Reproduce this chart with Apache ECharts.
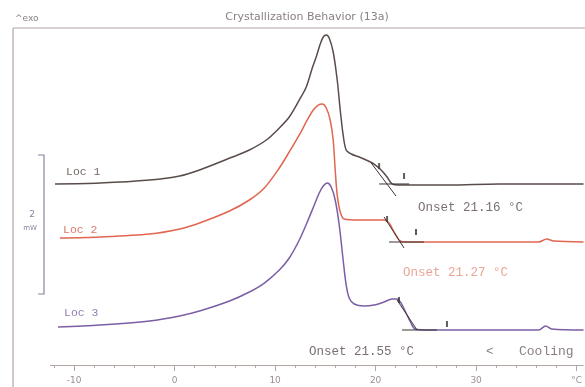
<!DOCTYPE html>
<html>
<head>
<meta charset="utf-8">
<script src="https://cdn.jsdelivr.net/npm/echarts@6/dist/echarts.min.js"></script>
<style>
  html, body { margin: 0; padding: 0; background: #fff; }
  #chart { width: 585px; height: 387px; }
</style>
</head>
<body>
<div id="chart"></div>
<script>
// temperature (°C) / heat flow (mW, offset per curve)
const loc1 = [
  [-11.9, 2.586], [-7.44, 2.6], [-2.48, 2.643], [0.5, 2.7], [2.48, 2.786], [5.76, 2.971],
  [7.44, 3.071], [9.13, 3.214], [10.42, 3.386], [11.41, 3.543], [12.41, 3.786], [13.1, 3.971],
  [13.7, 4.243], [14.09, 4.4], [14.49, 4.586], [14.79, 4.686], [15.09, 4.714], [15.38, 4.671],
  [15.78, 4.471], [16.18, 4.071], [16.48, 3.643], [16.77, 3.286], [17.07, 3.071], [17.57, 3.014],
  [18.36, 2.971], [19.06, 2.929], [19.85, 2.871], [20.55, 2.786], [21.14, 2.686], [21.64, 2.586],
  [22.33, 2.571], [27.3, 2.571], [32.26, 2.586], [40.69, 2.586]
];
const loc2 = [
  [-11.4, 1.814], [-7.44, 1.829], [-2.48, 1.871], [0.5, 1.943], [2.48, 2.029], [5.46, 2.2],
  [7.44, 2.357], [8.93, 2.529], [10.42, 2.814], [11.41, 3.043], [12.41, 3.286], [13.2, 3.5],
  [13.8, 3.643], [14.29, 3.714], [14.69, 3.729], [15.09, 3.671], [15.48, 3.5], [15.78, 3.214],
  [15.98, 2.786], [16.18, 2.429], [16.48, 2.186], [16.87, 2.086], [18.36, 2.071], [19.85, 2.071],
  [20.84, 2.071], [21.34, 2.029], [21.84, 1.9], [22.33, 1.786], [22.83, 1.757], [27.3, 1.757],
  [36.23, 1.757], [37.02, 1.8], [37.72, 1.771], [40.69, 1.757]
];
const loc3 = [
  [-11.6, 0.543], [-7.44, 0.571], [-2.48, 0.629], [0.5, 0.7], [2.48, 0.771], [5.46, 0.914],
  [7.44, 1.043], [8.93, 1.171], [10.42, 1.357], [11.41, 1.529], [12.41, 1.786], [13.2, 2.043],
  [13.9, 2.286], [14.39, 2.457], [14.79, 2.557], [15.19, 2.6], [15.58, 2.543], [15.98, 2.357],
  [16.38, 2.0], [16.77, 1.5], [17.07, 1.143], [17.37, 0.957], [17.87, 0.871], [18.86, 0.843],
  [19.85, 0.857], [20.84, 0.9], [21.64, 0.943], [22.13, 0.943], [22.53, 0.886], [23.03, 0.743],
  [23.52, 0.6], [23.92, 0.514], [25.31, 0.5], [32.26, 0.5], [36.23, 0.5], [36.92, 0.557],
  [37.52, 0.514], [40.69, 0.5]
];
// onset construction lines (tangent + baseline) for each curve
const tangents = [
  [[19.56, 2.886], [22.03, 2.414]], [[20.35, 2.586], [23.33, 2.586]],
  [[20.84, 2.114], [22.83, 1.671]], [[21.34, 1.757], [24.81, 1.757]],
  [[22.13, 0.929], [24.12, 0.5]], [[22.63, 0.5], [26.1, 0.5]]
];
const limitMarks = [
  [20.35, 2.843], [22.83, 2.7], [21.14, 2.086], [24.02, 1.9], [22.33, 0.929], [27.1, 0.586]
];
const majorTicks = [-10, 0, 10, 20, 30, 40];
const minorTicks = [-12, -8, -6, -4, -2, 2, 4, 6, 8, 12, 14, 16, 18, 22, 24, 26, 28, 32, 34, 36, 38];
const onsetLabels = ['Onset 21.16 °C', 'Onset 21.27 °C', 'Onset 21.55 °C'];

const frame = '#b3a5a2';
const mono = '"Liberation Mono", "DejaVu Sans Mono", monospace';
const sans = '"DejaVu Sans", sans-serif';

const chart = echarts.init(document.getElementById('chart'));

const tangentSeries = tangents.map((seg) => ({
  type: 'line',
  data: seg,
  symbol: 'none',
  silent: true,
  lineStyle: { color: '#3a3434', width: 1 },
  z: 3
}));

chart.setOption({
  animation: false,
  grid: { left: 13, right: 0, top: 28, bottom: 22 },
  xAxis: [
    {
      type: 'value', min: -16.08, max: 40.69,
      axisLine: { show: false },
      splitLine: { show: false },
      axisTick: { show: true, customValues: majorTicks, length: 6, lineStyle: { color: frame } },
      axisLabel: {
        customValues: majorTicks, color: '#9a9090', fontSize: 9, margin: 11,
        fontFamily: sans,
        formatter: (v) => (v === 40 ? '°C' : String(v))
      }
    },
    {
      type: 'value', min: -16.08, max: 40.69, position: 'bottom',
      axisLine: { show: false },
      splitLine: { show: false },
      axisTick: { show: true, customValues: minorTicks, length: 3, lineStyle: { color: frame } },
      axisLabel: { show: false }
    }
  ],
  yAxis: { type: 'value', min: 0, max: 4.814, show: false },
  series: [
    {
      type: 'line', data: loc1, symbol: 'none', smooth: 0.3,
      lineStyle: { color: '#5a4c4a', width: 1.5 }, z: 2,
      markLine: {
        silent: true, symbol: 'none', label: { show: false },
        lineStyle: { color: frame, width: 1.2, type: 'solid' },
        data: [[{ coord: [-12.4, 0] }, { coord: [40.69, 0] }]]
      }
    },
    { type: 'line', data: loc2, symbol: 'none', smooth: 0.3, lineStyle: { color: '#e2654f', width: 1.5 }, z: 2 },
    { type: 'line', data: loc3, symbol: 'none', smooth: 0.3, lineStyle: { color: '#7b5ea6', width: 1.5 }, z: 2 },
    ...tangentSeries,
    {
      type: 'scatter', data: limitMarks, symbol: 'rect', symbolSize: [2, 6],
      itemStyle: { color: '#3a3434' }, silent: true, z: 4
    }
  ],
  graphic: [
    { type: 'line', shape: { x1: 13, y1: 28, x2: 585, y2: 28 }, style: { stroke: frame, lineWidth: 1.2 } },
    { type: 'line', shape: { x1: 13, y1: 28, x2: 13, y2: 387 }, style: { stroke: frame, lineWidth: 1.2 } },
    { type: 'text', x: 15, y: 19, style: { text: '^exo', fill: '#8a8080', font: '9px ' + sans, textVerticalAlign: 'middle' } },
    { type: 'text', x: 307, y: 17, style: { text: 'Crystallization Behavior (13a)', fill: '#8a8080', font: '11px ' + sans, textAlign: 'center', textVerticalAlign: 'middle' } },
    // 2 mW scale bar
    { type: 'polyline', shape: { points: [[38, 155], [44, 155], [44, 294], [38, 294]] }, style: { stroke: '#8e80a2', lineWidth: 1.2, fill: null } },
    { type: 'text', x: 32, y: 215, style: { text: '2', fill: '#8e80a2', font: '9px ' + sans, textAlign: 'center', textVerticalAlign: 'middle' } },
    { type: 'text', x: 30, y: 228, style: { text: 'mW', fill: '#8e80a2', font: '7px ' + sans, textAlign: 'center', textVerticalAlign: 'middle' } },
    // curve labels
    { type: 'text', x: 66, y: 172, style: { text: 'Loc 1', fill: '#766a68', font: '11.5px ' + mono, textVerticalAlign: 'middle' } },
    { type: 'text', x: 63, y: 230, style: { text: 'Loc 2', fill: '#dc7a6a', font: '11.5px ' + mono, textVerticalAlign: 'middle' } },
    { type: 'text', x: 64, y: 313, style: { text: 'Loc 3', fill: '#9280b2', font: '11.5px ' + mono, textVerticalAlign: 'middle' } },
    // onset results
    { type: 'text', x: 418, y: 208, style: { text: onsetLabels[0], fill: '#7a7070', font: '12.5px ' + mono, textVerticalAlign: 'middle' } },
    { type: 'text', x: 403, y: 273, style: { text: onsetLabels[1], fill: '#e8a696', font: '12.5px ' + mono, textVerticalAlign: 'middle' } },
    { type: 'text', x: 309, y: 352, style: { text: onsetLabels[2], fill: '#7a7070', font: '12.5px ' + mono, textVerticalAlign: 'middle' } },
    { type: 'text', x: 486, y: 352, style: { text: '<', fill: '#8a8080', font: '12.5px ' + mono, textVerticalAlign: 'middle' } },
    { type: 'text', x: 519, y: 352, style: { text: 'Cooling', fill: '#8a8080', font: '13px ' + mono, textVerticalAlign: 'middle' } }
  ]
});
</script>
</body>
</html>
